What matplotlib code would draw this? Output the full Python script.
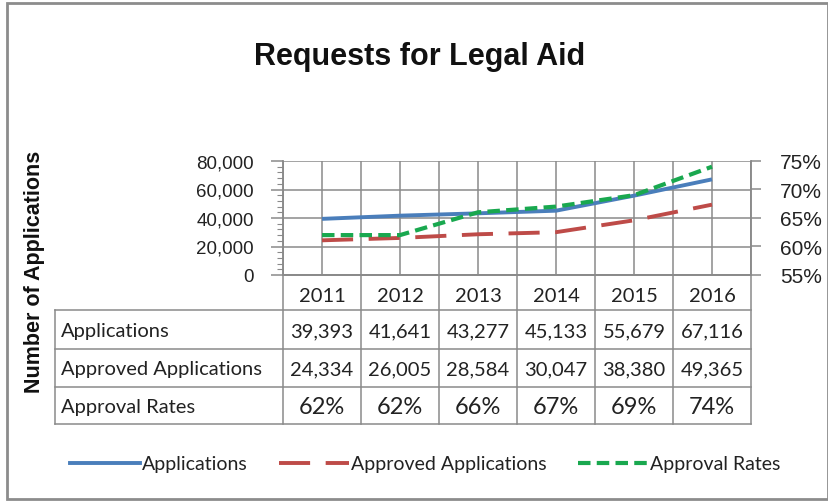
import matplotlib
matplotlib.use("Agg")
import matplotlib.pyplot as plt
import matplotlib.transforms as mtransforms
from matplotlib.lines import Line2D
from matplotlib.patches import Rectangle
import numpy as np

years = ["2011", "2012", "2013", "2014", "2015", "2016"]
applications = [39393, 41641, 43277, 45133, 55679, 67116]
approved = [24334, 26005, 28584, 30047, 38380, 49365]
approval_rates = [62, 62, 66, 67, 69, 74]
row_labels = ["Applications", "Approved Applications", "Approval Rates"]
left_ticks = [0, 20000, 40000, 60000, 80000]
right_ticks = [55, 60, 65, 70, 75]

W, H = 829, 502
fig = plt.figure(figsize=(W / 100, H / 100), dpi=100)

def fx(px):
    return px / W

def fy(py):
    return 1 - py / H

# outer frame
fig.patches.append(Rectangle((fx(7), fy(500)), fx(821), fy(4) - fy(500),
                             transform=fig.transFigure, fill=False,
                             edgecolor="#8c8c8c", linewidth=2))

ax_left, ax_right, ax_top, ax_bot = 283, 751, 162, 276
ax = fig.add_axes([fx(ax_left), fy(ax_bot), fx(ax_right - ax_left), fy(ax_top) - fy(ax_bot)])
ax2 = ax.twinx()

x = np.arange(len(years))
ax.set_xlim(-0.5, len(years) - 0.5)
ax.set_ylim(0, 80000)
ax2.set_ylim(55, 75)

grid_col = "#8a8a8a"
for v in np.arange(-0.5, len(years), 0.5):
    ax.axvline(v, color=grid_col, linewidth=1.1, zorder=0)
for t in left_ticks:
    ax.axhline(t, color=grid_col, linewidth=1.1, zorder=0)

ax.plot(x, applications, color="#4A7EBB", linewidth=2.8, solid_capstyle="butt", zorder=3)
ax.plot(x, approved, color="#BE4B48", linewidth=2.8, dashes=(8, 4), zorder=3)
ax2.plot(x, approval_rates, color="#19A84F", linewidth=3.0, dashes=(3, 1.5), zorder=3)

tick_font = dict(family="Liberation Sans", size=13.5)
ax.set_yticks(left_ticks)
ax.set_yticklabels([f"{t:,}" for t in left_ticks], fontdict=tick_font, color="#222222")
ax.set_yticks(np.arange(0, 80001, 4000), minor=True)
ax.tick_params(axis="y", which="major", direction="out", length=9, width=1.1, color=grid_col, pad=12)
ax.tick_params(axis="y", which="minor", direction="out", length=4, width=0.8, color=grid_col)
ax.set_xticks([])
ax2.set_yticks(right_ticks)
ax2.set_yticklabels([f"{t}%" for t in right_ticks],
                    fontdict=dict(family="Liberation Sans", size=15), color="#222222")
ax2.tick_params(axis="y", direction="out", length=7, width=1.1, color=grid_col, pad=14)
ax2.set_xticks([])

for a in (ax, ax2):
    for s in a.spines.values():
        s.set_color(grid_col)
        s.set_linewidth(1.1)
ax.spines["top"].set_visible(False)
ax2.spines["top"].set_visible(False)

# data table
trans = mtransforms.blended_transform_factory(ax.transData, fig.transFigure)
tab_font = dict(family="Lato", size=14.5, color="#222222")
row_edges = [276, 311, 350, 388, 425]
label_left = 55
line_kw = dict(color=grid_col, linewidth=1.1)

for ry in row_edges[1:]:
    fig.add_artist(Line2D([fx(label_left), fx(ax_right)], [fy(ry), fy(ry)],
                          transform=fig.transFigure, **line_kw))
fig.add_artist(Line2D([fx(ax_left), fx(ax_right)], [fy(row_edges[0]), fy(row_edges[0])],
                      transform=fig.transFigure, **line_kw))
for b in np.arange(-0.5, len(years), 1.0):
    fig.add_artist(Line2D([b, b], [fy(row_edges[0]), fy(row_edges[-1])], transform=trans, **line_kw))
fig.add_artist(Line2D([fx(label_left), fx(label_left)], [fy(row_edges[1]), fy(row_edges[-1])],
                      transform=fig.transFigure, **line_kw))

for i, yr in enumerate(years):
    fig.text(x[i], fy((row_edges[0] + row_edges[1]) / 2 + 3), yr, transform=trans,
             ha="center", va="center", **tab_font)
rows = [[f"{v:,}" for v in applications],
        [f"{v:,}" for v in approved],
        [f"{v}%" for v in approval_rates]]
for r, (lab, vals) in enumerate(zip(row_labels, rows)):
    cy = fy((row_edges[r + 1] + row_edges[r + 2]) / 2 + 1)
    fig.text(fx(label_left + 6), cy, lab, ha="left", va="center", **tab_font)
    for i, v in enumerate(vals):
        fig.text(x[i], cy, v, transform=trans, ha="center", va="center",
                 **(dict(tab_font, size=17) if r == 2 else tab_font))

# title and y label
fig.text(fx(420), fy(57), "Requests for Legal Aid", ha="center", va="center",
         family="Liberation Sans", weight="bold", size=22, color="#111111")
fig.text(fx(35), fy(272), "Number of Applications", ha="center", va="center",
         rotation=90, family="Liberation Sans", weight="bold", size=15.5, color="#111111")

# legend
handles = [Line2D([], [], color="#4A7EBB", linewidth=2.8),
           Line2D([], [], color="#BE4B48", linewidth=2.8, dashes=(8, 4)),
           Line2D([], [], color="#19A84F", linewidth=3.0, dashes=(3, 1.5))]
leg = fig.legend(handles, row_labels, loc="center", bbox_to_anchor=(fx(425), fy(465)),
                 ncol=3, frameon=False, prop=dict(family="Lato", size=14),
                 handlelength=3.6, handletextpad=0.1, columnspacing=1.6)
for t in leg.get_texts():
    t.set_color("#222222")

fig.savefig("out.png", dpi=100)
